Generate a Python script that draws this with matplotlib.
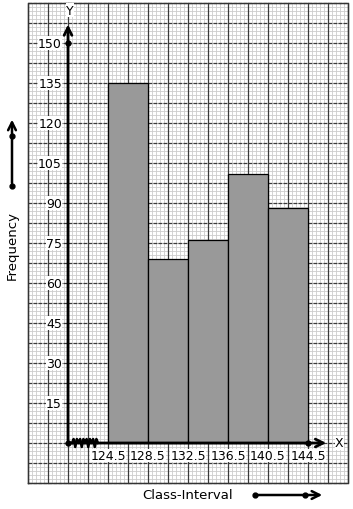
import numpy as np
import matplotlib.pyplot as plt

# class intervals and frequencies
edges = [124.5, 128.5, 132.5, 136.5, 140.5, 144.5]
freq = [135, 69, 76, 101, 88]
yticks = [15, 30, 45, 60, 75, 90, 105, 120, 135, 150]
xlabels = ['124.5', '128.5', '132.5', '136.5', '140.5', '144.5']

# origin of the drawn axes (kink before 124.5)
x0 = 120.5

fig = plt.figure(figsize=(3.53, 5.10), dpi=100)
ax = fig.add_axes([0, 0, 1, 1])
ax.set_xlim(113.7, 149.0)
ax.set_ylim(-24.75, 166.5)
ax.axis('off')

# graph paper
gx0, gx1, gy0, gy1 = 116.5, 148.5, -15, 165
for x in np.arange(gx0, gx1 + 0.01, 0.4):
    ax.plot([x, x], [gy0, gy1], color='#cccccc', lw=0.6, zorder=0)
for y in np.arange(gy0, gy1 + 0.01, 1.5):
    ax.plot([gx0, gx1], [y, y], color='#cccccc', lw=0.6, zorder=0)
for x in np.arange(gx0, gx1 + 0.01, 2):
    ax.plot([x, x], [gy0, gy1], color='#3a3a3a', lw=0.9, zorder=1)
for y in np.arange(gy0, gy1 + 0.01, 7.5):
    ax.plot([gx0, gx1], [y, y], color='#3a3a3a', lw=0.9, ls=(0, (3, 1)), zorder=1)
ax.plot([gx0, gx1, gx1, gx0, gx0], [gy0, gy0, gy1, gy1, gy0], color='#333333', lw=1, zorder=1)

# histogram bars
widths = np.diff(edges)
ax.bar(edges[:-1], freq, width=widths, align='edge', color='#999999',
       edgecolor='black', linewidth=0.9, zorder=2)

# axes with arrows
ax.annotate('', xy=(x0, 158), xytext=(x0, 0),
            arrowprops=dict(arrowstyle='->', lw=2, color='black', mutation_scale=14), zorder=3)
ax.annotate('', xy=(146.6, 0), xytext=(x0, 0),
            arrowprops=dict(arrowstyle='->', lw=2, color='black', mutation_scale=14), zorder=3)
ax.plot([x0, x0, edges[-1]], [0, 150, 0], 'o', color='black', ms=3.5, zorder=4)
ax.text(x0 + 0.2, 162.3, 'Y', fontsize=9, ha='center', va='center', zorder=4,
        bbox=dict(facecolor='white', edgecolor='none', pad=0.3))
ax.text(147.2, 0, 'X', fontsize=9, ha='left', va='center', zorder=4,
        bbox=dict(facecolor='white', edgecolor='none', pad=0.3))

# kink on x-axis
zx = np.linspace(x0 + 0.4, x0 + 3.0, 17)
zy = np.array([0, 1.5, -1.5, 1.5] * 5)[:17]
zy[-1] = 0
ax.plot(zx, zy, color='black', lw=1.8, zorder=4)

# tick labels
for v in yticks:
    ax.text(x0 - 0.6, v, str(v), fontsize=9, ha='right', va='center',
            bbox=dict(facecolor='white', edgecolor='none', pad=0.3), zorder=3)
for e, s in zip(edges, xlabels):
    ax.text(e, -4.7, s, fontsize=9, ha='center', va='center',
            bbox=dict(facecolor='white', edgecolor='none', pad=0.3), zorder=3)

# axis titles and side arrows
ax.text(114.9, 74.6, 'Frequency', fontsize=9.5, rotation=90, ha='center', va='center')
ax.annotate('', xy=(114.9, 122.3), xytext=(114.9, 96.4),
            arrowprops=dict(arrowstyle='->', lw=1.8, color='black', mutation_scale=14))
ax.plot([114.9, 114.9], [96.4, 115], 'o', color='black', ms=3.5)
ax.text(132.5, -19.5, 'Class-Interval', fontsize=9.5, ha='center', va='center')
ax.annotate('', xy=(146.2, -19.5), xytext=(139.2, -19.5),
            arrowprops=dict(arrowstyle='->', lw=1.8, color='black', mutation_scale=14))
ax.plot([139.2, 144.2], [-19.5, -19.5], 'o', color='black', ms=3.5)

fig.savefig('out.png', dpi=100)
